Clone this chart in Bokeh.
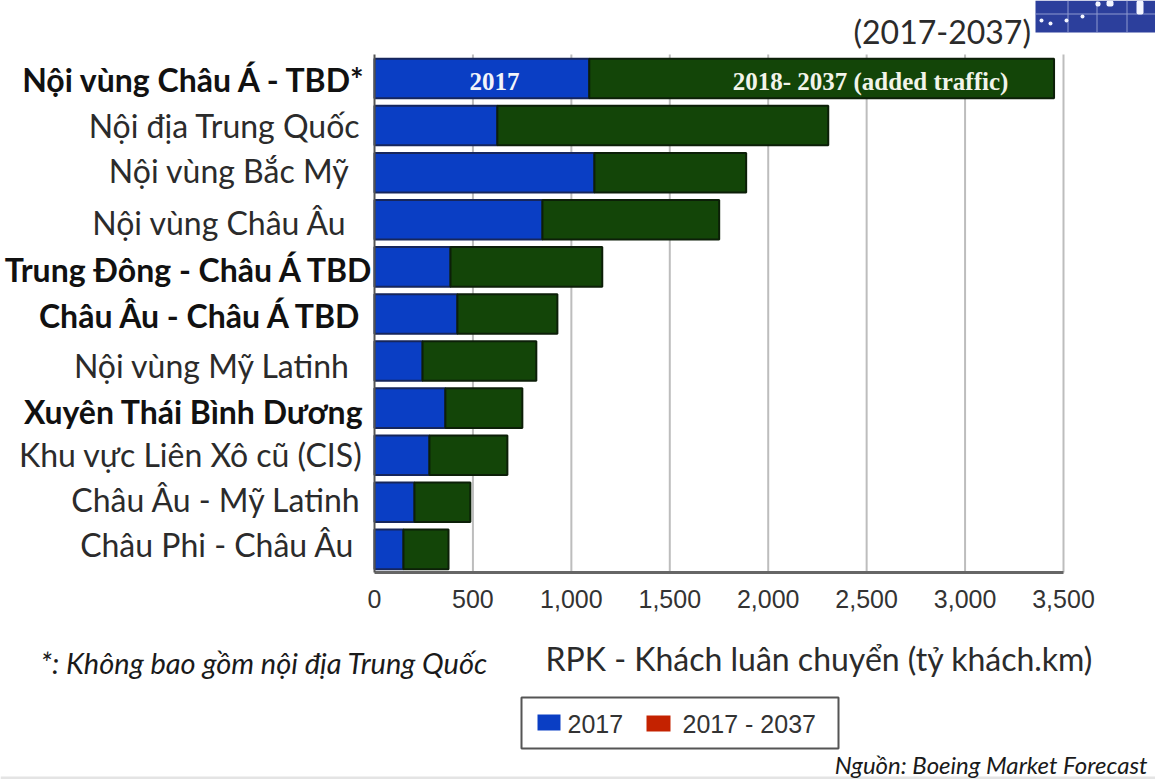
from bokeh.embed import file_html
from bokeh.resources import INLINE
from bokeh.plotting import figure
from bokeh.models import (BoxAnnotation, ColumnDataSource, Label,
                          NumeralTickFormatter, Range1d)

# Air traffic by market, RPK in billions
routes = [
    "Nội vùng Châu Á - TBD*", "Nội địa Trung Quốc", "Nội vùng Bắc Mỹ", "Nội vùng Châu Âu",
    "Trung Đông - Châu Á TBD", "Châu Âu - Châu Á TBD", "Nội vùng Mỹ Latinh",
    "Xuyên Thái Bình Dương", "Khu vực Liên Xô cũ (CIS)", "Châu Âu - Mỹ Latinh",
    "Châu Phi - Châu Âu",
]
rpk_2017 = [1091, 624, 1117, 853, 386, 421, 244, 360, 279, 203, 147]
rpk_total_2037 = [3452, 2305, 1888, 1751, 1157, 929, 822, 751, 675, 487, 376]
bold_routes = {"Nội vùng Châu Á - TBD*", "Trung Đông - Châu Á TBD",
               "Châu Âu - Châu Á TBD", "Xuyên Thái Bình Dương"}
x_ticks = [0, 500, 1000, 1500, 2000, 2500, 3000, 3500]

# Anchor of each hand-placed category label, in canvas pixels
label_right = [367, 360, 349, 347, 374, 363, 350, 363, 362, 361, 354]
label_middle = [79, 125, 170, 222, 269, 315, 365, 411, 454, 499, 544]

BLUE, GREEN, RED = "#0a3ec4", "#134508", "#c42200"
LABEL_FONT = "Lato"
row = list(range(len(routes)))

# The frame fills the canvas so that labels and the emblem can sit around the plot area
W, H = 1155, 779
X0_PX, X_MAX_PX = 374, 1063
ROW0_PX, ROW_PX = 78, 47.09
px_per_unit = (X_MAX_PX - X0_PX) / x_ticks[-1]
y_top_value, y_bottom_value = -0.51, 10.49

p = figure(width=W, height=H, output_backend="svg", toolbar_location=None,
           x_range=Range1d(-X0_PX / px_per_unit, (W - X0_PX) / px_per_unit),
           y_range=Range1d((H - ROW0_PX) / ROW_PX, -ROW0_PX / ROW_PX),
           min_border=0, background_fill_color="white", border_fill_color="white",
           outline_line_color=None)

# Vertical rules stop at the axis, so they are drawn as segments rather than a full-height grid
p.segment(x0=x_ticks[1:], x1=x_ticks[1:], y0=[y_top_value] * 7, y1=[y_bottom_value] * 7,
          line_color="#bdbdbd", line_width=2)

source = ColumnDataSource(dict(y=row, base=rpk_2017, start=[0] * len(row), total=rpk_total_2037))
p.hbar(y="y", left="start", right="base", height=0.84, source=source,
       fill_color=BLUE, line_color="#16265c", line_width=2)
p.hbar(y="y", left="base", right="total", height=0.84, source=source,
       fill_color=GREEN, line_color="#0c1f08", line_width=2)

p.xaxis.fixed_location = y_bottom_value
p.xaxis.bounds = (0, x_ticks[-1])
p.xaxis.ticker = x_ticks
p.xaxis.formatter = NumeralTickFormatter(format="0,0")
p.xaxis.major_label_text_font = "Liberation Sans"
p.xaxis.major_label_text_font_size = "25px"
p.xaxis.major_label_text_color = "#333333"
p.xaxis.major_label_standoff = 12
p.xaxis.axis_line_color = "#666666"
p.xaxis.axis_line_width = 3
p.xaxis.major_tick_line_color = None
p.xaxis.minor_tick_line_color = None
p.xgrid.visible = False
p.ygrid.visible = False
p.yaxis.fixed_location = 0
p.yaxis.bounds = (y_top_value, y_bottom_value)
p.yaxis.ticker = []
p.yaxis.axis_line_color = "#555555"
p.yaxis.axis_line_width = 2
p.yaxis.major_tick_line_color = None
p.yaxis.minor_tick_line_color = None


def canvas_label(x, y, text, size, font=LABEL_FONT, color="#1a1a1a", align="left", style="normal"):
    p.add_layout(Label(x=x, y=y, x_units="canvas", y_units="canvas", text=text,
                       text_font=font, text_font_size=f"{size}px", text_color=color,
                       text_align=align, text_baseline="middle", text_font_style=style))


def canvas_box(left, right, top, bottom, color, radius=0, border=None, border_width=0):
    p.add_layout(BoxAnnotation(left=left, right=right, top=top, bottom=bottom,
                               left_units="canvas", right_units="canvas",
                               top_units="canvas", bottom_units="canvas",
                               fill_color=color, fill_alpha=1, line_color=border, line_alpha=1,
                               line_width=border_width, border_radius=radius))


for i, name in enumerate(routes):
    canvas_label(label_right[i], label_middle[i], name, 32, align="right",
                 style="bold" if name in bold_routes else "normal",
                 color="#111111" if name in bold_routes else "#2b2b2b")

# Captions inside the top bar
canvas_label(494, 81, "2017", 25, font="Liberation Serif", color="#f2f4fa", align="center", style="bold")
canvas_label(870, 81, "2018- 2037 (added traffic)", 25, font="Liberation Serif",
             color="#f2f4ea", align="center", style="bold")

# Corner emblem: navy field with a thin graticule and white specks
canvas_box(1035, 1155, 0, 32, "#2c3f9c")
for gx in (1067, 1096, 1126):
    canvas_box(gx, gx + 1, 0, 32, "#8e9ad0")
canvas_box(1035, 1155, 13, 14, "#8e9ad0")
for dx, dy in ((1041, 20), (1050, 23), (1066, 20), (1082, 16)):
    canvas_box(dx - 2, dx + 2, dy - 2, dy + 2, "#f4f6ff", radius=2)
canvas_box(1095, 1100, 1, 6, "#f4f6ff", radius=2)
canvas_box(1106, 1113, 0, 6, "#f4f6ff", radius=2)
canvas_box(1136, 1143, 0, 14, "#f4f6ff", radius=2)

# Faint rule along the bottom edge
canvas_box(0, 1155, 776, 779, "#e4e4e4")

canvas_label(853, 31, "(2017-2037)", 32, color="#2b2b2b")
canvas_label(40, 662, "*: Không bao gồm nội địa Trung Quốc", 29, style="italic")
canvas_label(545, 658, "RPK - Khách luân chuyển (tỷ khách.km)", 32, color="#2b2b2b")
canvas_label(1147, 764, "Nguồn: Boeing Market Forecast", 24, align="right", style="italic")

# Legend panel
canvas_box(521, 838, 697, 748, "white", border="#555555", border_width=2)
canvas_box(537, 560, 714, 730, BLUE)
canvas_box(646, 670, 715, 731, RED)
canvas_label(567, 723, "2017", 25, font="Liberation Sans", color="#333333")
canvas_label(682, 723, "2017 - 2037", 25, font="Liberation Sans", color="#333333")

open("out.html", "w").write(file_html(p, INLINE))
